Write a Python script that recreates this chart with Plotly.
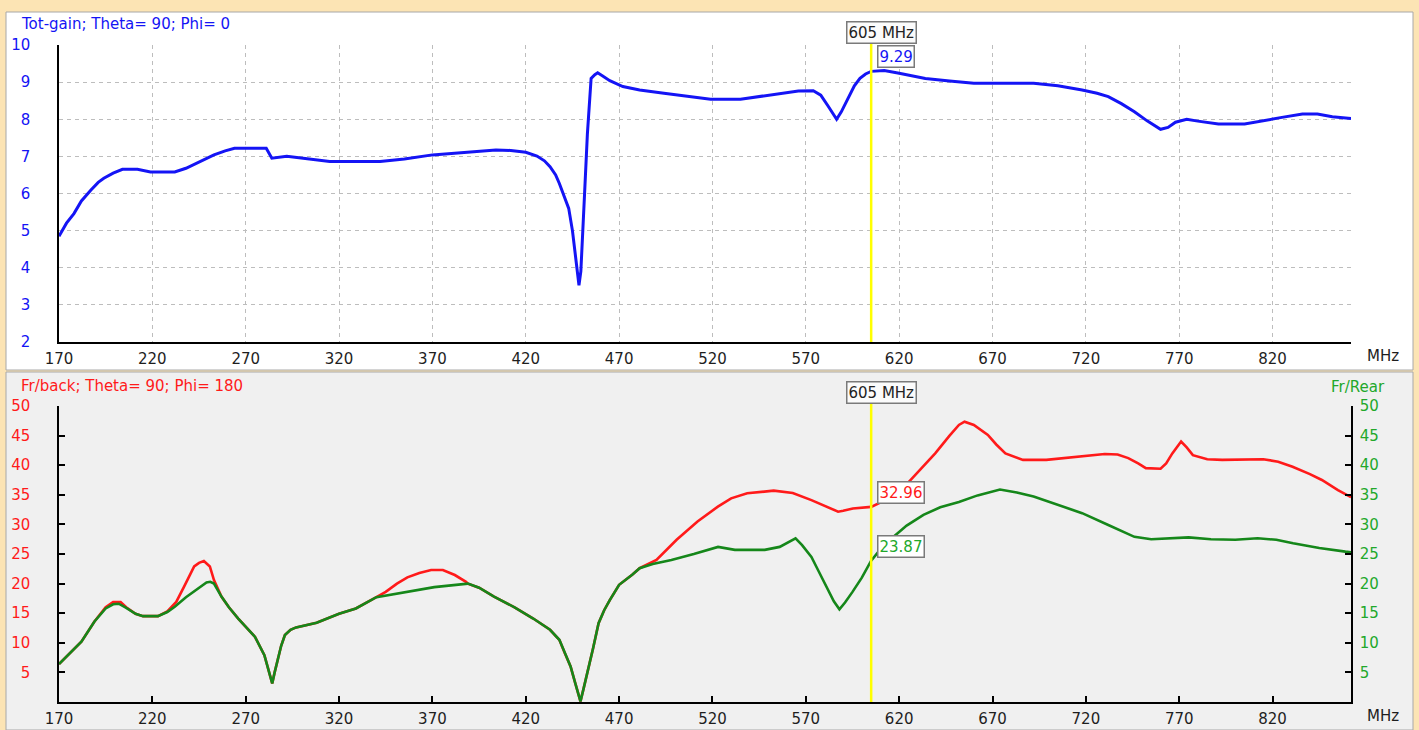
import plotly.graph_objects as go

# ---- Total gain (dBi) versus frequency (MHz), Theta=90, Phi=0 ----
gain_freq = [170, 174, 178, 182, 187, 191, 194, 199, 204, 212, 219, 232, 238, 245, 253, 259,
             264, 281, 283, 284, 292, 304, 315, 342, 355, 370, 390, 404, 412, 420, 426, 430,
             433, 436, 438, 441, 443, 445, 446.5, 447.5, 448.5, 449.5, 450.5, 451.5, 453, 454,
             455, 457, 458.5, 461, 465, 472, 481, 494, 506, 519, 535, 546, 556, 566, 574, 578,
             582, 586.5, 589, 592, 596, 599, 602, 605, 612, 620, 634, 647, 660, 692, 705, 718,
             726, 732, 739, 746, 753, 760, 764, 768, 774, 780, 791, 805, 815, 825, 836, 844,
             852, 862]
gain_val = [4.85, 5.2, 5.46, 5.8, 6.09, 6.3, 6.41, 6.55, 6.65, 6.65, 6.58, 6.58, 6.68, 6.85, 7.04, 7.15,
            7.22, 7.22, 7.05, 6.95, 7.0, 6.92, 6.86, 6.86, 6.93, 7.04, 7.12, 7.17, 7.16, 7.11, 7.01, 6.88,
            6.72, 6.5, 6.27, 5.9, 5.6, 5.0, 4.4, 4.0, 3.53, 3.9, 4.8, 6.0, 7.6, 8.5,
            9.1, 9.2, 9.25, 9.17, 9.04, 8.88, 8.79, 8.70, 8.62, 8.54, 8.54, 8.62, 8.70, 8.76, 8.77, 8.65,
            8.35, 8.0, 8.2, 8.52, 8.9, 9.1, 9.22, 9.29, 9.31, 9.24, 9.10, 9.03, 8.97, 8.97, 8.90, 8.79,
            8.70, 8.61, 8.42, 8.20, 7.95, 7.73, 7.78, 7.92, 8.0, 7.95, 7.87, 7.87, 7.95, 8.05, 8.14, 8.14,
            8.07, 8.02]

# ---- Front/back ratio (dB), Theta=90, Phi=180 ----
fb_freq = [170, 176, 182, 189, 195, 199, 203, 206, 211, 215, 223, 228, 232.8, 237, 242.4, 245,
           247.6, 250.8, 253, 257, 261, 266, 271, 275, 280, 282.5, 284.2, 285.5, 287, 289, 291, 294,
           297, 308, 320, 329, 340, 345, 351, 356.6, 363, 369.3, 375.6, 382, 388, 389, 395, 403,
           414, 424, 433, 438, 441, 444, 446.5, 448, 449.3, 451, 453, 456, 459, 462, 465, 470,
           477, 481, 490, 500.8, 512, 522.9, 530, 538.6, 552.8, 563, 573, 580, 587.3, 590, 595.2, 605,
           612, 620, 625.2, 632, 639.3, 647, 652, 655, 660, 667.5, 672, 676.9, 686.3, 698.8, 714.4, 730.1,
           737, 742.7, 748, 752.1, 760, 763, 766.3, 771, 774, 777.3, 785, 793, 815, 823, 830.7, 840,
           846.4, 855, 862]
fb_val = [6.4, 8.3, 10.2, 13.6, 16.0, 16.9, 16.9, 16.0, 14.9, 14.5, 14.5, 15.3, 16.9, 19.5, 22.9, 23.5,
          23.8, 22.9, 20.6, 17.8, 16.0, 14.1, 12.3, 11.0, 7.9, 5.0, 3.15, 5.0, 7.1, 9.5, 11.3, 12.2,
          12.6, 13.4, 14.9, 15.8, 17.7, 18.6, 20.0, 21.05, 21.8, 22.3, 22.3, 21.45, 20.3, 20.0, 19.3, 17.8,
          16.0, 14.1, 12.2, 10.5, 8.2, 6.0, 3.2, 1.5, 0.1, 2.3, 4.8, 9.0, 13.3, 15.5, 17.2, 19.8,
          21.5, 22.6, 24.0, 27.4, 30.5, 33.0, 34.4, 35.25, 35.7, 35.3, 34.1, 33.2, 32.15, 32.3, 32.7, 32.96,
          34.0, 35.8, 37.2, 39.5, 42.0, 45.0, 46.8, 47.35, 46.8, 45.1, 43.5, 42.0, 40.9, 40.9, 41.4, 41.9,
          41.8, 41.2, 40.3, 39.5, 39.4, 40.3, 42.0, 44.0, 43.0, 41.7, 41.0, 40.9, 41.0, 40.6, 39.75, 38.5,
          37.5, 35.8, 34.6]

# ---- Front/rear ratio (dB) ----
fr_freq = [170, 176, 182, 189, 195, 199, 202, 206, 211, 215, 223, 228, 232, 238, 244.5, 249,
           251, 253, 257, 261, 266, 271, 275, 280, 282.5, 284.2, 285.5, 287, 289, 291, 294, 297,
           308, 320, 329, 340, 354, 371, 389, 395, 403, 414, 424, 433, 438, 441, 444, 446.5,
           448, 449.3, 451, 453, 456, 459, 462, 465, 470, 477, 481, 488, 498, 510, 523, 532,
           548, 556, 564.5, 568, 573, 577, 581, 585, 588, 591, 595, 600, 605, 610, 617, 624,
           633, 642, 652, 662, 674, 683, 692, 705, 718, 732, 746, 755, 766, 775, 787, 800,
           812, 822, 831, 845, 859, 862]
fr_val = [6.4, 8.3, 10.2, 13.6, 15.8, 16.5, 16.6, 15.9, 14.9, 14.5, 14.5, 15.2, 16.1, 17.7, 19.2, 20.2,
          20.3, 20.0, 17.8, 16.0, 14.1, 12.3, 11.0, 7.9, 5.0, 3.15, 5.0, 7.1, 9.5, 11.3, 12.2, 12.6,
          13.4, 14.9, 15.8, 17.7, 18.5, 19.4, 20.0, 19.3, 17.8, 16.0, 14.1, 12.2, 10.5, 8.2, 6.0, 3.2,
          1.5, 0.1, 2.3, 4.8, 9.0, 13.3, 15.5, 17.2, 19.8, 21.5, 22.6, 23.3, 24.0, 25.0, 26.2, 25.7,
          25.7, 26.2, 27.65, 26.5, 24.5, 22.0, 19.5, 17.0, 15.65, 16.8, 18.6, 21.0, 23.87, 25.8, 27.9, 29.8,
          31.6, 32.9, 33.8, 34.9, 35.9, 35.4, 34.7, 33.3, 31.9, 29.9, 27.9, 27.5, 27.6, 27.8, 27.5, 27.4,
          27.65, 27.4, 26.8, 26.0, 25.4, 25.3]

freq_ticks = list(range(170, 821, 50))
gain_ticks = list(range(2, 11))
ratio_ticks = list(range(5, 51, 5))
marker_freq = 605

W, H = 1419, 730
FONT = "DejaVu Sans"
BLUE = "#1414f5"
RED = "#ff1a1a"
GREEN_LINE = "#15871a"
GREEN_TEXT = "#22a82a"
INK = "#1e1e1e"


def px(x):
    return x / W


def py(y):
    return 1 - y / H


x_dom = [px(59), px(1351)]
top_dom = [py(342), py(45)]
bot_dom = [py(702), py(406)]

fig = go.Figure()

fig.add_trace(go.Scatter(x=gain_freq, y=gain_val, mode="lines",
                         line=dict(color=BLUE, width=3), xaxis="x", yaxis="y",
                         hoverinfo="skip", showlegend=False))
fig.add_trace(go.Scatter(x=fb_freq, y=fb_val, mode="lines",
                         line=dict(color=RED, width=2.6), xaxis="x2", yaxis="y2",
                         hoverinfo="skip", showlegend=False))
fig.add_trace(go.Scatter(x=fr_freq, y=fr_val, mode="lines",
                         line=dict(color=GREEN_LINE, width=2.6), xaxis="x2", yaxis="y3",
                         hoverinfo="skip", showlegend=False))

tickfont = dict(family=FONT, size=15, color=INK)
grid = dict(showgrid=True, gridcolor="#bdbdbd", gridwidth=1, griddash="4px,4px")
common = dict(automargin=False, zeroline=False)

fig.update_layout(
    width=W, height=H,
    autosize=False,
    margin=dict(l=0, r=0, t=0, b=0, pad=0, autoexpand=False),
    paper_bgcolor="#fce4b4",
    plot_bgcolor="rgba(0,0,0,0)",
    font=dict(family=FONT, size=15, color=INK),
    xaxis=dict(domain=x_dom, anchor="y", range=[170, 862], tickvals=freq_ticks,
               showline=True, linecolor="#000000", linewidth=1.5, ticks="",
               tickfont=tickfont, ticklabelstandoff=2, **grid, **common),
    yaxis=dict(domain=top_dom, anchor="x", range=[2, 10], tickvals=gain_ticks,
               showline=True, linecolor="#000000", linewidth=1.5, ticks="",
               tickfont=dict(family=FONT, size=15, color=BLUE), ticklabelstandoff=24,
               **grid, **common),
    xaxis2=dict(domain=x_dom, anchor="y2", range=[170, 862], tickvals=freq_ticks,
                showline=True, linecolor="#000000", linewidth=1.5, ticks="inside",
                ticklen=6, tickwidth=1.5, tickcolor="#000000", showgrid=False,
                tickfont=tickfont, ticklabelstandoff=2, **common),
    yaxis2=dict(domain=bot_dom, anchor="x2", range=[0, 50], tickvals=ratio_ticks,
                showline=True, linecolor="#000000", linewidth=1.5, ticks="inside",
                ticklen=6, tickwidth=1.5, tickcolor="#000000", showgrid=False,
                tickfont=dict(family=FONT, size=15, color=RED), ticklabelstandoff=24,
                **common),
    yaxis3=dict(domain=bot_dom, anchor="x2", overlaying="y2", side="right", range=[0, 50],
                tickvals=ratio_ticks, showline=True, linecolor="#000000", linewidth=1.5,
                ticks="inside", ticklen=6, tickwidth=1.5, tickcolor="#000000", showgrid=False,
                tickfont=dict(family=FONT, size=15, color=GREEN_TEXT), ticklabelstandoff=4,
                **common),
)

# panel backgrounds
fig.add_shape(type="rect", xref="paper", yref="paper", x0=px(6), x1=px(1413), y0=py(370), y1=py(12),
              fillcolor="#ffffff", line=dict(color="#a8a8a8", width=1), layer="below")
fig.add_shape(type="rect", xref="paper", yref="paper", x0=px(6), x1=px(1413), y0=py(730), y1=py(372),
              fillcolor="#f0f0f0", line=dict(color="#a8a8a8", width=1), layer="below")

# frequency cursor
fig.add_shape(type="line", xref="x", yref="paper", x0=marker_freq, x1=marker_freq,
              y0=py(342), y1=py(43), line=dict(color="#ffff00", width=2.5), layer="above")
fig.add_shape(type="line", xref="x2", yref="paper", x0=marker_freq, x1=marker_freq,
              y0=py(702), y1=py(403), line=dict(color="#ffff00", width=2.5), layer="above")


def value_at(freqs, vals, f):
    return vals[freqs.index(f)]


cursor_box = dict(bgcolor="#fbfbfb", bordercolor="#7a7a7a", borderwidth=1.5, borderpad=1)
for y_center, xref in ((32.5, "x"), (392.5, "x2")):
    fig.add_annotation(x=marker_freq, xref=xref, y=py(y_center), yref="paper",
                       text=f"{marker_freq} MHz", showarrow=False, xanchor="center",
                       yanchor="middle", xshift=10,
                       font=dict(family=FONT, size=15, color="#222222"), **cursor_box)

for freqs, vals, xref, yref, color in (
        (gain_freq, gain_val, "x", "y", BLUE),
        (fb_freq, fb_val, "x2", "y2", RED),
        (fr_freq, fr_val, "x2", "y3", GREEN_TEXT)):
    v = value_at(freqs, vals, marker_freq)
    fig.add_annotation(x=marker_freq, xref=xref, y=v, yref=yref, text=f"{v:.2f}",
                       showarrow=False, xanchor="left", yanchor="bottom", xshift=6, yshift=3,
                       font=dict(family=FONT, size=15, color=color),
                       bgcolor="#ffffff", bordercolor="#7a7a7a", borderwidth=1.5, borderpad=1)

# panel titles and unit labels
fig.add_annotation(x=px(19), y=py(24), xref="paper", yref="paper", text="Tot-gain; Theta= 90; Phi= 0",
                   showarrow=False, xanchor="left", yanchor="middle",
                   font=dict(family=FONT, size=15, color=BLUE))
fig.add_annotation(x=px(19), y=py(385.5), xref="paper", yref="paper",
                   text="Fr/back; Theta= 90; Phi= 180", showarrow=False, xanchor="left",
                   yanchor="middle", font=dict(family=FONT, size=15, color=RED))
fig.add_annotation(x=px(1387), y=py(387), xref="paper", yref="paper", text="Fr/Rear",
                   showarrow=False, xanchor="right", yanchor="middle",
                   font=dict(family=FONT, size=15, color=GREEN_TEXT))
for y_center in (356, 716):
    fig.add_annotation(x=px(1365), y=py(y_center), xref="paper", yref="paper", text="MHz",
                       showarrow=False, xanchor="left", yanchor="middle",
                       font=dict(family=FONT, size=15, color=INK))

fig.write_html("out.html")
